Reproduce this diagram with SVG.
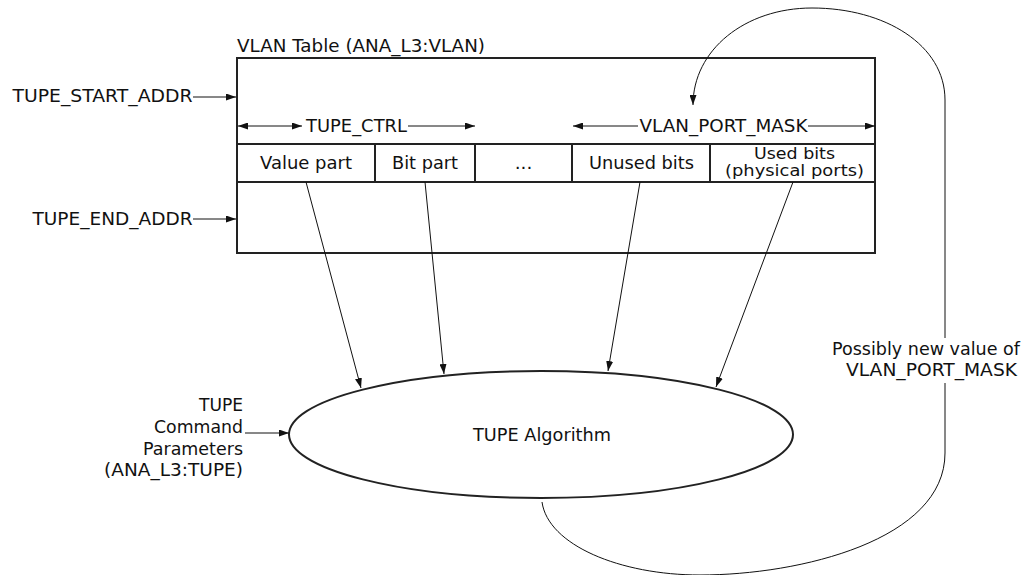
<svg xmlns="http://www.w3.org/2000/svg" width="1031" height="575" viewBox="0 0 1031 575">
  <style>
    text { font-family: "DejaVu Sans", Verdana, sans-serif; font-size: 18.5px; fill: #111; }
    .small { font-size: 16.5px; }
    .box { fill: #fff; stroke: #222; stroke-width: 2; }
    .cellline { stroke: #222; stroke-width: 2; fill: none; }
    .conn { stroke: #111; stroke-width: 1; fill: none; }
    .arr { marker-end: url(#ah); }
    .both { marker-start: url(#ah); marker-end: url(#ah); }
    .mid { text-anchor: middle; }
  </style>
  <defs>
    <marker id="ah" viewBox="0 0 10 7" refX="10" refY="3.5" markerWidth="10" markerHeight="7" markerUnits="userSpaceOnUse" orient="auto-start-reverse">
      <path d="M0,0 L10,3.5 L0,7 z" fill="#111"/>
    </marker>
  </defs>
  <rect width="1031" height="575" fill="#fff"/>

  <g id="vlan-table">
    <text x="237" y="52" textLength="248" lengthAdjust="spacingAndGlyphs">VLAN Table (ANA_L3:VLAN)</text>
    <rect class="box" x="237" y="58" width="638" height="195"/>
    <path class="cellline" d="M237,144 H875 M237,182 H875 M375,144 V182 M475,144 V182 M572,144 V182 M710,144 V182"/>
  </g>
  <g id="cell-value-part"><text x="260" y="169" textLength="92" lengthAdjust="spacingAndGlyphs">Value part</text></g>
  <g id="cell-bit-part"><text x="392" y="169" textLength="66" lengthAdjust="spacingAndGlyphs">Bit part</text></g>
  <g id="cell-dots"><text class="mid" x="523.5" y="169">...</text></g>
  <g id="cell-unused-bits"><text x="589" y="169" textLength="105" lengthAdjust="spacingAndGlyphs">Unused bits</text></g>
  <g id="cell-used-bits">
    <text class="small" x="754" y="159" textLength="81" lengthAdjust="spacingAndGlyphs">Used bits</text>
    <text class="small" x="725" y="176" textLength="139" lengthAdjust="spacingAndGlyphs">(physical ports)</text>
  </g>

  <g id="label-start-addr"><text x="12.5" y="102" textLength="180" lengthAdjust="spacingAndGlyphs">TUPE_START_ADDR</text></g>
  <g id="label-end-addr"><text x="32.5" y="225" textLength="160" lengthAdjust="spacingAndGlyphs">TUPE_END_ADDR</text></g>
  <g id="label-tupe-ctrl"><text x="306" y="132" textLength="101" lengthAdjust="spacingAndGlyphs">TUPE_CTRL</text></g>
  <g id="label-vlan-port-mask"><text x="639.5" y="132" textLength="168" lengthAdjust="spacingAndGlyphs">VLAN_PORT_MASK</text></g>

  <g id="tupe-algorithm">
    <ellipse class="box" cx="541" cy="434.5" rx="252" ry="63.5"/>
    <text x="473" y="441" textLength="138" lengthAdjust="spacingAndGlyphs">TUPE Algorithm</text>
  </g>

  <g id="tupe-command-params">
    <text x="199" y="411" textLength="44" lengthAdjust="spacingAndGlyphs">TUPE</text>
    <text x="154" y="433" textLength="89" lengthAdjust="spacingAndGlyphs">Command</text>
    <text x="143" y="454.5" textLength="100" lengthAdjust="spacingAndGlyphs">Parameters</text>
    <text x="104" y="476" textLength="139" lengthAdjust="spacingAndGlyphs">(ANA_L3:TUPE)</text>
  </g>

  <g id="label-possibly-new">
    <text x="832" y="355" textLength="188" lengthAdjust="spacingAndGlyphs">Possibly new value of</text>
    <text x="846" y="376" textLength="171" lengthAdjust="spacingAndGlyphs">VLAN_PORT_MASK</text>
  </g>

  <g id="connectors">
    <path class="conn arr" d="M193,97 H236"/>
    <path class="conn arr" d="M193,219 H236"/>
    <path class="conn both" d="M302,126 H238"/>
    <path class="conn arr" d="M408,126 H475"/>
    <path class="conn arr" d="M638,126 H573"/>
    <path class="conn arr" d="M808,126 H875"/>
    <path class="conn arr" d="M306,182 L361,388"/>
    <path class="conn arr" d="M425,182 L444,374"/>
    <path class="conn arr" d="M640,182 L608,371"/>
    <path class="conn arr" d="M793,182 L716,387"/>
    <path class="conn arr" d="M245,433 H289"/>
    <path class="conn arr" d="M542,502 C548,545 620,575 700,575 C800,575 945,540 945,453 L945,383 M945,338 L945,100 C945,45 885,8 812,8 C745,8 693,50 693,105"/>
  </g>
</svg>
